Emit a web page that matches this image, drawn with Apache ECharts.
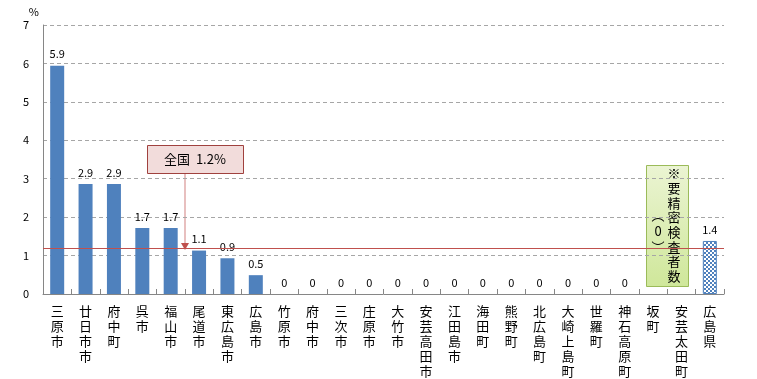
<!DOCTYPE html>
<html><head><meta charset="utf-8">
<script src="https://cdn.jsdelivr.net/npm/echarts@6/dist/echarts.min.js"></script>
<style>html,body{margin:0;padding:0;background:#fff}#c{width:757px;height:379px}</style>
</head><body><div id="c"></div>
<script>
const categories = ['三原市','廿日市市','府中町','呉市','福山市','尾道市','東広島市','広島市','竹原市','府中市','三次市','庄原市','大竹市','安芸高田市','江田島市','海田町','熊野町','北広島町','大崎上島町','世羅町','神石高原町','坂町','安芸太田町','広島県'];
const values = [5.94, 2.86, 2.86, 1.72, 1.72, 1.13, 0.93, 0.49, 0, 0, 0, 0, 0, 0, 0, 0, 0, 0, 0, 0, 0, null, null, 1.38];
const nationalAvg = 1.2;
const yTicks = [0,1,2,3,4,5,6,7];

const chart = echarts.init(document.getElementById('c'));
const font = '"Noto Sans CJK JP","DejaVu Sans",sans-serif';

// checker pattern for prefecture bar
const pc = document.createElement('canvas');
pc.width = 4; pc.height = 4;
const g = pc.getContext('2d');
g.fillStyle = '#ffffff'; g.fillRect(0,0,4,4);
g.fillStyle = '#4f81bd';
g.fillRect(0,0,2,2); g.fillRect(2,2,2,2);

const data = values.map((v,i) => {
  if (i === categories.length - 1) {
    return {value: v, itemStyle: {color: {image: pc, repeat: 'repeat'}, borderColor: '#4f81bd', borderWidth: 1}};
  }
  return v;
});

const option = {
  animation: false,
  grid: {left: 43, right: 33, top: 25, bottom: 82},
  xAxis: {
    type: 'category', data: categories,
    axisLine: {lineStyle: {color: '#868686'}},
    axisTick: {show: true, inside: true, length: 5, lineStyle: {color: '#868686'}},
    axisLabel: {
      interval: 0, color: '#000', fontSize: 13, fontFamily: font, lineHeight: 15, margin: 10,
      formatter: v => v.split('').join('\n')
    }
  },
  yAxis: {
    type: 'value', min: 0, max: 7, interval: 1,
    name: '%', nameLocation: 'end', nameGap: 8,
    nameTextStyle: {color: '#000', fontSize: 11, fontFamily: font, align: 'right', padding: [0, 4, 0, 0]},
    axisLine: {show: true, lineStyle: {color: '#868686'}},
    axisTick: {show: false},
    axisLabel: {color: '#000', fontSize: 11, fontFamily: font, margin: 14},
    splitLine: {lineStyle: {color: '#a6a6a6', type: [4, 3]}}
  },
  series: [{
    type: 'bar', data: data, barWidth: 14,
    itemStyle: {color: '#4f81bd'},
    label: {
      show: true, position: 'top', distance: 6, color: '#000', fontSize: 11, fontFamily: font,
      formatter: p => p.value == null ? '' : (p.value === 0 ? '0' : p.value.toFixed(1))
    },
    markLine: {
      silent: true, symbol: 'none', label: {show: false}, z: 5,
      lineStyle: {color: '#c0504d', width: 1.2, type: 'solid', opacity: 1},
      emphasis: {disabled: true},
      data: [{yAxis: nationalAvg}]
    }
  }],
  graphic: [
    {type: 'line', shape: {x1: 185, y1: 173, x2: 185, y2: 244}, style: {stroke: '#d99594', lineWidth: 1.2}},
    {type: 'polygon', shape: {points: [[181, 243], [189, 243], [185, 250]]}, style: {fill: '#c0504d'}},
    {type: 'rect', shape: {x: 147.5, y: 145.5, width: 96, height: 28}, style: {fill: '#f2dcdb', stroke: '#a0413e', lineWidth: 1}},
    {type: 'text', x: 195, y: 159.5, style: {text: '全国  1.2%', font: '13px ' + font, fill: '#000', align: 'center', verticalAlign: 'middle'}},
    {type: 'rect', shape: {x: 646.5, y: 165.5, width: 42, height: 121},
      style: {fill: new echarts.graphic.LinearGradient(0,0,0,1,[{offset:0,color:'#ebf4d3'},{offset:1,color:'#cfe79a'}]), stroke: '#9bbb59', lineWidth: 1}},
    {type: 'text', x: 674, y: 166, style: {text: '※\n要\n精\n密\n検\n査\n者\n数', font: '13px ' + font, fill: '#000', align: 'center', verticalAlign: 'top', lineHeight: 14.7}},
    {type: 'text', x: 658, y: 207, style: {text: '︵\n0\n︶', font: '13px ' + font, fill: '#000', align: 'center', verticalAlign: 'top', lineHeight: 16}}
  ]
};
chart.setOption(option);
</script></body></html>
